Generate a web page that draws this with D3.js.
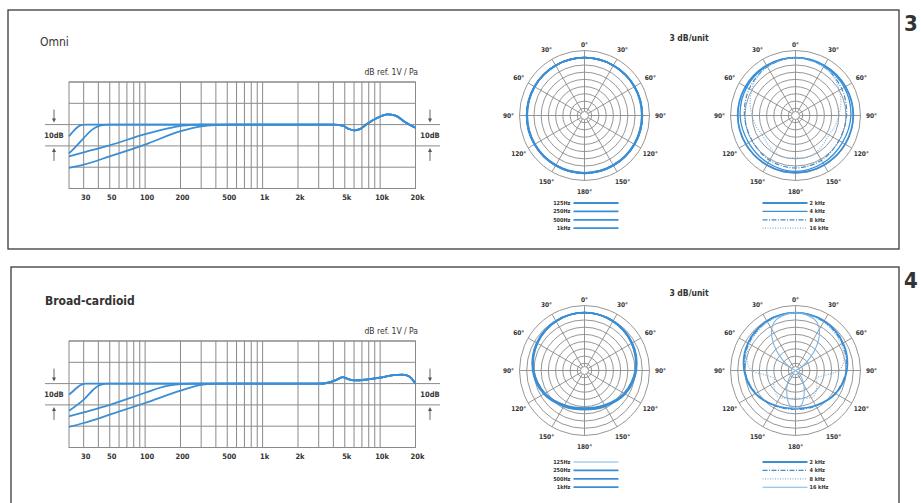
<!DOCTYPE html>
<html>
<head>
<meta charset="utf-8">
<title>Microphone response</title>
<style>
  body { margin: 0; background: #fff; }
  text { font-family: "Liberation Sans Narrow", "DejaVu Sans Condensed", "Arial Narrow", sans-serif; fill: #333; }
</style>
</head>
<body>
<div id="chart"></div>
<script src="https://cdn.jsdelivr.net/npm/d3@7"></script>
<script>
// ---- data ----
var tickFreqs = [30, 50, 100, 200, 500, 1000, 2000, 5000, 10000, 20000];
var tickLabels = ["30", "50", "100", "200", "500", "1k", "2k", "5k", "10k", "20k"];
var dbLines = [-30, -20, -10, 0, 10, 20];

// frequency response, [Hz, dB] (low cut positions)
var omniLow = [
  [[22.5, -5.5], [25, -2.6], [27, -0.9], [29, -0.1], [32, 0]],
  [[22.5, -13.5], [25, -11], [30, -6.3], [35, -2.6], [40, -0.7], [45, -0.1], [50, 0]],
  [[22.5, -14.9], [30, -13], [50, -9.7], [100, -4.5], [150, -2], [200, -0.6], [250, -0.1], [300, 0]],
  [[22.5, -20.3], [30, -18.8], [50, -14.9], [100, -9.4], [200, -3.1], [300, -0.8], [400, -0.2], [500, 0]]
];
var omniTail = [[600, 0], [4000, 0], [4800, -0.5], [5400, -2], [6000, -2.7], [6800, -2], [7600, 0], [9500, 3.2], [11500, 4.8], [13500, 4.2], [16400, 1.1], [20000, -1.5]];

var broadLow = [
  [[22.5, -5.2], [25, -3], [28, -0.8], [31, 0]],
  [[22.5, -12.7], [30, -7.5], [36, -3], [40, -1], [45, -0.1], [48, 0]],
  [[22.5, -15.4], [30, -13.5], [50, -10], [100, -4.3], [150, -1.2], [200, -0.2], [250, 0]],
  [[22.5, -20.3], [30, -18.5], [50, -14.6], [100, -9.1], [200, -3.3], [300, -0.6], [400, 0]]
];
var broadTail = [[500, 0], [3000, 0], [3600, 0.4], [4200, 1.6], [4800, 3], [5300, 2.2], [6000, 1.5], [7500, 1.8], [10000, 2.8], [13000, 4], [15500, 4.2], [17500, 3.5], [20000, 0]];

// polar patterns, [degrees, dB], 0..180 (symmetric)
var omniPolarLowLabels = ["125Hz", "250Hz", "500Hz", "1kHz"];
var omniPolarLow = [
  [[0, 0], [30, 0], [60, 0], [90, 0], [120, 0], [150, 0], [180, 0]],
  [[0, 0], [30, 0], [60, 0], [90, 0], [120, 0], [150, 0], [180, 0]],
  [[0, 0], [30, 0], [60, 0], [90, -0.1], [120, -0.1], [150, -0.1], [180, -0.1]],
  [[0, 0], [30, 0], [60, -0.1], [90, -0.2], [120, -0.2], [150, -0.2], [180, -0.2]]
];
var omniPolarHighLabels = ["2 kHz", "4 kHz", "8 kHz", "16 kHz"];
var omniPolarHigh = [
  [[0, 0], [30, 0], [60, 0], [90, 0], [120, -0.2], [150, -0.3], [180, -0.3]],
  [[0, 0], [30, -0.3], [60, -0.6], [90, -1], [120, -1.5], [150, -1.2], [180, -0.8]],
  [[0, 0], [30, -0.6], [60, -1.8], [90, -2.8], [120, -3.2], [150, -2.5], [180, -2.2]],
  [[0, 0], [30, -0.6], [45, -1.5], [60, -3], [75, -4.5], [90, -6], [105, -7], [120, -8], [135, -7.5], [150, -6.5], [165, -6], [180, -6.5]]
];
var broadPolarLowLabels = ["125Hz", "250Hz", "500Hz", "1kHz"];
var broadPolarLow = [
  [[0, 0], [30, -0.3], [60, -1.2], [90, -2.6], [120, -4.7], [150, -7], [180, -8]],
  [[0, 0], [30, -0.3], [60, -1.1], [90, -2.5], [120, -4.5], [150, -6.8], [180, -7.8]],
  [[0, 0], [30, -0.4], [60, -1.3], [90, -2.8], [120, -4.9], [150, -7.2], [180, -8.2]],
  [[0, 0], [30, -0.4], [60, -1.4], [90, -2.9], [120, -5], [150, -7.4], [180, -8.4]]
];
var broadPolarHighLabels = ["2 kHz", "4 kHz", "8 kHz", "16 kHz"];
var broadPolarHigh = [
  [[0, 0], [30, -0.3], [60, -1.2], [90, -2.7], [120, -4.8], [150, -7.2], [180, -8.2]],
  [[0, 0], [30, -0.5], [60, -1.6], [90, -3], [120, -5], [150, -7], [180, -7.8]],
  [[0, 0], [30, -0.8], [60, -2], [80, -3.7], [90, -6], [100, -12], [110, -14.5], [125, -13], [145, -11], [165, -12], [180, -12.5]],
  [[0, 0], [20, -1.3], [30, -4.2], [40, -10], [48, -15.4], [60, -21], [70, -24], [110, -24], [130, -22], [140, -20], [150, -17], [160, -13.5], [170, -9.5], [180, -8]]
];
var angleLabels = ["0°", "30°", "60°", "90°", "120°", "150°", "180°", "150°", "120°", "90°", "60°", "30°"];

// ---- styles ----
var BLUE = "#3b8ed4", LIGHT = "#7ab6e6", GRID = "#8a8a8a";
var solid = { color: BLUE, width: 1.8, dash: null };
var thin = { color: BLUE, width: 1.3, dash: null };
var lightSolid = { color: LIGHT, width: 1.1, dash: null };
var dashDot = { color: BLUE, width: 1.2, dash: "5,1.5,1,1.5" };
var dotted = { color: LIGHT, width: 1.2, dash: "1,1.5" };

var panels = [
  { title: "Omni", bold: false, titleX: 40, frame: [8, 10, 891, 239], gridTop: 82, polarCy: 115.5, legendTop: 203, num: "3", numX: 904,
    low: omniLow, tail: omniTail,
    left: { data: omniPolarLow, labels: omniPolarLowLabels, styles: [solid, solid, solid, solid] },
    right: { data: omniPolarHigh, labels: omniPolarHighLabels, styles: [solid, thin, dashDot, dotted] } },
  { title: "Broad-cardioid", bold: true, titleX: 45, frame: [11, 267, 888, 260], gridTop: 341, polarCy: 370.5, legendTop: 462, num: "4", numX: 904,
    low: broadLow, tail: broadTail,
    left: { data: broadPolarLow, labels: broadPolarLowLabels, styles: [lightSolid, solid, solid, solid] },
    right: { data: broadPolarHigh, labels: broadPolarHighLabels, styles: [solid, dashDot, dotted, lightSolid] } }
];

var svg = d3.select("#chart").append("svg")
  .attr("width", 921)
  .attr("height", 503);

var x = d3.scaleLog().domain([22.5, 20000]).range([69, 415.5]);
var gridFreqs = [10, 100, 1000, 10000]
  .reduce(function (a, dec) { return a.concat(d3.range(1, 10).map(function (m) { return m * dec; })); }, [])
  .filter(function (f) { return f >= 30 && f < 20000; });

var rScale = d3.scaleLinear().domain([-24, 3]).range([0, 65]).clamp(true);

function applyStyle(sel, st) {
  sel.attr("fill", "none")
    .attr("stroke", st.color)
    .attr("stroke-width", st.width)
    .attr("stroke-dasharray", st.dash);
}

function arrow(g, ax, tip, dir) {
  // dir = 1 points down, -1 points up
  g.append("line").attr("x1", ax).attr("x2", ax)
    .attr("y1", tip - dir * 14).attr("y2", tip - dir * 3)
    .attr("stroke", "#555").attr("stroke-width", 0.9);
  g.append("path")
    .attr("d", "M" + (ax - 2) + "," + (tip - dir * 5) + "L" + (ax + 2) + "," + (tip - dir * 5) + "L" + ax + "," + (tip - dir) + "Z")
    .attr("fill", "#555");
}

function drawFreq(g, p) {
  var y = d3.scaleLinear().domain([-30, 20]).range([p.gridTop + 106.5, p.gridTop]);

  g.selectAll(".vline").data(gridFreqs).enter().append("line")
    .attr("x1", function (d) { return x(d); }).attr("x2", function (d) { return x(d); })
    .attr("y1", y(20)).attr("y2", y(-30))
    .attr("stroke", GRID).attr("stroke-width", 1);

  g.selectAll(".hline").data(dbLines).enter().append("line")
    .attr("x1", function (d) { return (d === 0 || d === -10) ? 45 : x.range()[0]; })
    .attr("x2", function (d) { return (d === 0 || d === -10) ? 440 : x.range()[1]; })
    .attr("y1", function (d) { return y(d); }).attr("y2", function (d) { return y(d); })
    .attr("stroke", GRID).attr("stroke-width", 1);

  g.append("rect")
    .attr("x", x.range()[0]).attr("y", y(20))
    .attr("width", x.range()[1] - x.range()[0]).attr("height", y(-30) - y(20))
    .attr("fill", "none").attr("stroke", GRID).attr("stroke-width", 1);

  // 10dB markers
  [54, 430].forEach(function (ax) {
    arrow(g, ax, y(0) - 1, 1);
    arrow(g, ax, y(-10) + 1, -1);
    g.append("text").attr("x", ax).attr("y", (y(0) + y(-10)) / 2).attr("dy", "0.35em")
      .attr("text-anchor", "middle").attr("font-size", 7.5).attr("font-weight", 700).text("10dB");
  });

  var line = d3.line()
    .x(function (d) { return x(d[0]); })
    .y(function (d) { return y(d[1]); })
    .curve(d3.curveMonotoneX);

  p.low.forEach(function (c) {
    g.append("path").datum(c.concat(p.tail)).attr("d", line)
      .attr("fill", "none").attr("stroke", BLUE).attr("stroke-width", 1.8);
  });

  g.selectAll(".tick").data(tickFreqs).enter().append("text")
    .attr("x", function (d) { return x(d) + 2; })
    .attr("y", p.gridTop + 115).attr("dy", "0.35em")
    .attr("text-anchor", "middle").attr("font-size", 7.5).attr("font-weight", 700)
    .text(function (d, i) { return tickLabels[i]; });

  g.append("text").attr("x", 418).attr("y", p.gridTop - 10).attr("dy", "0.35em")
    .attr("text-anchor", "end").attr("font-size", 8.5).text("dB ref. 1V / Pa");
}

function drawPolar(g, cx, cy, set, legendTop, leftLegend) {
  var pg = g.append("g").attr("transform", "translate(" + cx + "," + cy + ")");
  pg.selectAll(".ring").data(d3.range(1, 10)).enter().append("circle")
    .attr("r", function (k) { return 65 * k / 9; })
    .attr("fill", "none").attr("stroke", GRID).attr("stroke-width", 0.9);
  pg.selectAll(".spoke").data(d3.range(0, 360, 30)).enter().append("line")
    .attr("x1", function (a) { return 4 * Math.sin(a * Math.PI / 180); })
    .attr("y1", function (a) { return -4 * Math.cos(a * Math.PI / 180); })
    .attr("x2", function (a) { return 65 * Math.sin(a * Math.PI / 180); })
    .attr("y2", function (a) { return -65 * Math.cos(a * Math.PI / 180); })
    .attr("stroke", GRID).attr("stroke-width", 0.9);
  pg.append("circle").attr("r", 4).attr("fill", "#fff").attr("stroke", GRID).attr("stroke-width", 0.9);

  pg.selectAll(".alab").data(angleLabels).enter().append("text")
    .attr("x", function (d, i) { var a = i * 30, r = a === 0 ? 71 : 76; return r * Math.sin(a * Math.PI / 180); })
    .attr("y", function (d, i) { var a = i * 30, r = a === 0 ? 71 : 76; return -r * Math.cos(a * Math.PI / 180); })
    .attr("dy", "0.35em").attr("text-anchor", "middle")
    .attr("font-size", 6.5).attr("font-weight", 700)
    .text(function (d) { return d; });

  var radial = d3.lineRadial()
    .angle(function (d) { return d[0] * Math.PI / 180; })
    .radius(function (d) { return rScale(d[1]); })
    .curve(d3.curveCatmullRomClosed.alpha(0.5));

  set.data.forEach(function (s, i) {
    var pts = s.concat(s.slice(1, -1).reverse().map(function (d) { return [360 - d[0], d[1]]; }));
    applyStyle(pg.append("path").datum(pts).attr("d", radial), set.styles[i]);
  });

  // legend
  set.labels.forEach(function (lab, i) {
    var ly = legendTop + i * 8.4;
    var x1 = leftLegend ? cx - 11 : cx - 33, x2 = x1 + 45;
    applyStyle(g.append("line").attr("x1", x1).attr("x2", x2).attr("y1", ly).attr("y2", ly), set.styles[i]);
    g.append("text")
      .attr("x", leftLegend ? x1 - 3 : x2 + 2).attr("y", ly).attr("dy", "0.35em")
      .attr("text-anchor", leftLegend ? "end" : "start")
      .attr("font-size", 5.5).attr("font-weight", 700).text(lab);
  });
}

panels.forEach(function (p) {
  var g = svg.append("g");
  g.append("rect")
    .attr("x", p.frame[0]).attr("y", p.frame[1])
    .attr("width", p.frame[2]).attr("height", p.frame[3])
    .attr("fill", "none").attr("stroke", "#3a3a3a").attr("stroke-width", 1.3);

  g.append("text").attr("x", p.titleX).attr("y", p.gridTop - 40).attr("dy", "0.35em")
    .attr("font-size", 12).attr("font-weight", p.bold ? 700 : 400).text(p.title);

  g.append("text").attr("x", p.numX).attr("y", p.frame[1] + 21)
    .attr("font-size", 22).attr("font-weight", 700).attr("fill", "#222").text(p.num);

  drawFreq(g, p);
  drawPolar(g, 584.5, p.polarCy, p.left, p.legendTop, true);
  drawPolar(g, 795.5, p.polarCy, p.right, p.legendTop, false);

  g.append("text").attr("x", 689).attr("y", p.polarCy - 77).attr("dy", "0.35em")
    .attr("text-anchor", "middle").attr("font-size", 8.5).attr("font-weight", 700).text("3 dB/unit");
});
</script>
</body>
</html>
